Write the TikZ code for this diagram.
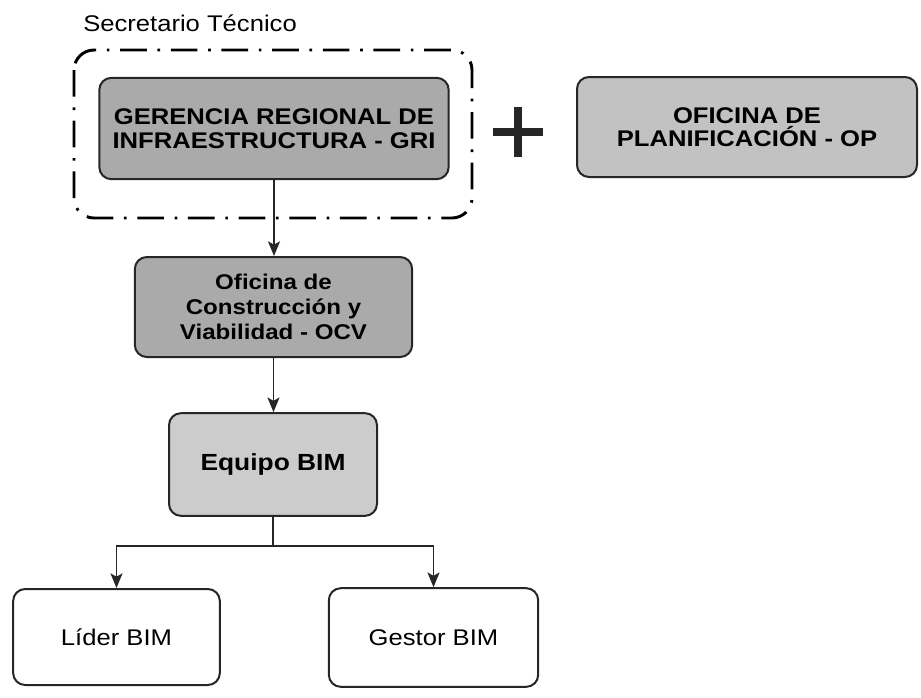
\documentclass[tikz,border=0pt]{standalone}
\usepackage{fontspec}
\setmainfont{Liberation Sans}[FakeStretch=1.13]
\usetikzlibrary{arrows.meta}

\begin{document}
\begin{tikzpicture}[
    x=0.75pt, y=-0.75pt,
    orgbox/.style={draw=black!85, line width=1.5pt, rounded corners=9pt, align=center, inner sep=0pt},
    headbox/.style={orgbox, fill=boxdark, font=\fontsize{17}{17.6}\selectfont\bfseries},
    officebox/.style={orgbox, fill=boxdark, font=\fontsize{16}{19}\selectfont\bfseries},
    teambox/.style={orgbox, fill=boxpale, font=\fontsize{17.5}{20}\selectfont\bfseries},
    rolebox/.style={orgbox, fill=white, font=\fontsize{17}{20}\selectfont},
    link/.style={line width=1.3pt, black!85},
    linkarrow/.style={link, -{Stealth[length=11pt, width=9pt, inset=2.5pt]}}
]

% Define colors
\definecolor{boxdark}{RGB}{170,170,170}
\definecolor{boxlight}{RGB}{194,194,194}
\definecolor{boxpale}{RGB}{204,204,204}

\useasboundingbox (0,0) rectangle (921,697);

% Secretario Tecnico group
\draw[line width=2.2pt, dash pattern=on 20pt off 8pt on 2pt off 8pt, rounded corners=15pt] (74,50) rectangle (472,218);
\node[anchor=base west, inner sep=0pt, font=\fontsize{17}{20}\selectfont] (sectec) at (83,31) {Secretario Técnico};

% Top level
\node[headbox, minimum width=262pt, minimum height=76pt] (gri) at (274,128.5) {GERENCIA REGIONAL DE\\INFRAESTRUCTURA - GRI};
\node[headbox, fill=boxlight, minimum width=255pt, minimum height=75pt] (op) at (747,127) {OFICINA DE\\PLANIFICACIÓN - OP};

% Plus sign
\draw[line width=6pt, black!85] (493,132) -- (543,132) (518,107) -- (518,157);

% Lower levels
\node[officebox, minimum width=208pt, minimum height=75pt] (ocv) at (273.5,307) {Oficina de\\Construcción y\\Viabilidad - OCV};
\node[teambox, minimum width=156pt, minimum height=77pt] (equipo) at (273,464.5) {Equipo BIM};
\node[rolebox, minimum width=155pt, minimum height=72pt] (lider) at (116.5,637) {Líder BIM};
\node[rolebox, minimum width=157pt, minimum height=74pt] (gestor) at (433.5,637.5) {Gestor BIM};

% Connectors
\draw[linkarrow] (gri.south) -- (gri.south |- ocv.north);
\draw[linkarrow] (ocv.south) -- (ocv.south |- equipo.north);
\coordinate (split) at (273,546);
\draw[link] (equipo.south) -- (split);
\draw[linkarrow] (split) -| (lider.north);
\draw[linkarrow] (split) -| (gestor.north);

\end{tikzpicture}
\end{document}
